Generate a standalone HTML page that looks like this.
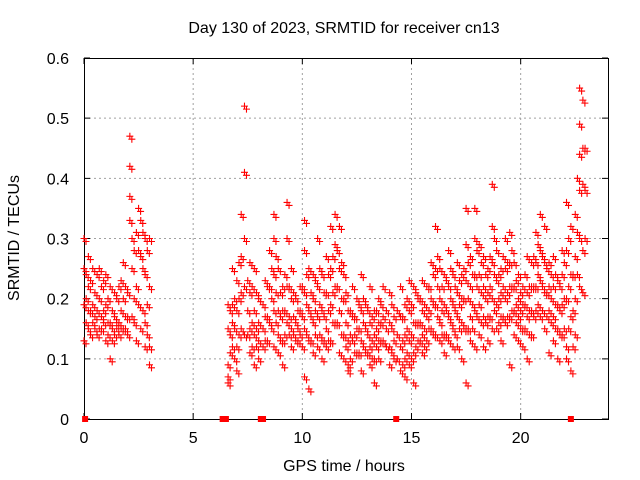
<!DOCTYPE html>
<html><head><meta charset="utf-8"><style>
body{margin:0;background:#fff}
svg{display:block;font-family:"Liberation Sans",sans-serif}
</style></head><body>
<svg id="chart" width="640" height="480" viewBox="0 0 640 480">
<rect width="640" height="480" fill="#fff"/>
<g id="grid"></g>
<g id="axes"></g>
<g id="marks"></g>
<text x="344" y="33" text-anchor="middle" font-size="16" fill="#000">Day 130 of 2023, SRMTID for receiver cn13</text>
<text x="344" y="471" text-anchor="middle" font-size="16" fill="#000">GPS time / hours</text>
<text transform="translate(19,238) rotate(-90)" text-anchor="middle" font-size="16" fill="#000">SRMTID / TECUs</text>
</svg>
<script>
const times=[0,0.2,0.4,0.6,0.8,1.0,1.2,1.4,1.6,1.8,2.0,2.1,2.2,2.4,2.5,2.6,2.8,2.9,3.0,
6.6,6.8,7.0,7.2,7.35,7.6,7.8,8.0,8.3,8.5,8.7,8.9,9.1,9.3,9.5,9.7,9.9,10.1,10.3,10.5,10.7,10.9,11.1,11.3,11.5,11.7,11.9,12.1,12.3,12.5,12.7,12.9,13.1,13.3,13.5,13.7,14.0,14.2,14.5,14.7,14.9,15.1,15.3,15.5,15.7,15.9,16.1,16.3,16.5,16.7,16.9,17.1,17.3,17.5,17.7,17.9,18.1,18.3,18.5,18.7,18.9,19.1,19.3,19.5,19.7,19.9,20.1,20.3,20.5,20.7,20.9,21.1,21.3,21.5,21.7,21.9,22.1,22.3,22.5,22.7,22.85];
const values=[[.30,.25,.19,.13],[.27,.22,.18,.15],[.25,.19,.16],[.24,.18,.14],[.22,.17,.15],[.24,.19,.13],[.22,.16,.10],[.21,.17,.14],[.22,.16,.14],[.26,.20,.15],[.21,.17,.14],[.47,.42,.37,.33],[.30,.25,.17],[.31,.22,.13],[.35,.28,.19],[.33,.27,.15],[.30,.24,.16,.12],[.28,.19,.14],[.30,.22,.12,.09],
[.09,.07,.06,.19,.15],[.25,.19,.16,.12],[.23,.18,.12,.08],[.34,.27,.21,.15],[.52,.41,.30,.22,.14],[.26,.21,.15,.11],[.25,.18,.14,.09],[.20,.16,.13,.10],[.23,.17,.13],[.28,.22,.16],[.34,.30,.24,.18,.12],[.25,.18,.14,.11],[.22,.18,.13,.09],[.36,.30,.22,.16],[.25,.20,.15,.12],[.20,.16,.13],[.22,.18,.14],[.33,.28,.21,.15,.07],[.25,.18,.13,.05],[.24,.20,.16,.11],[.30,.22,.17,.12],[.24,.18,.13,.10],[.27,.21,.15,.12],[.32,.25,.19,.13],[.34,.29,.22,.16],[.32,.25,.18,.11],[.24,.20,.14,.10],[.18,.13,.09,.08],[.22,.17,.13],[.20,.15,.11],[.24,.18,.13,.08],[.19,.15,.11],[.22,.16,.12,.09],[.18,.14,.10,.06],[.20,.16,.13,.10],[.22,.17,.13],[.21,.16,.12,.09],[.17,.13,.10],[.22,.17,.12,.08],[.19,.14,.10,.07],[.23,.18,.13,.09],[.22,.16,.11,.06],[.20,.16,.13],[.23,.18,.14,.11],[.22,.17,.13],[.26,.20,.15],[.32,.25,.19,.14],[.25,.20,.16,.13],[.24,.19,.14,.11],[.28,.22,.17,.13],[.24,.19,.15,.12],[.26,.21,.17,.12],[.24,.20,.16,.10],[.35,.29,.23,.15,.06],[.27,.22,.17,.13],[.35,.30,.24,.18,.12],[.29,.24,.19,.14],[.27,.22,.17,.12],[.25,.21,.17,.13],[.39,.32,.26,.20,.15],[.28,.23,.19,.15],[.25,.21,.17,.13],[.30,.25,.20,.16],[.31,.26,.22,.17,.09],[.26,.22,.18,.14],[.24,.20,.17,.13],[.22,.19,.15,.12],[.27,.21,.17,.10],[.26,.22,.18,.14],[.31,.26,.22,.18],[.34,.28,.23,.17],[.32,.26,.21,.15],[.26,.22,.18,.11],[.27,.22,.17,.13],[.23,.19,.15,.10],[.28,.24,.19,.14],[.36,.28,.20,.12,.10],[.32,.24,.17,.08],[.34,.27,.20,.14],[.55,.49,.44,.38,.30,.22],[.53,.45,.39,.28,.21]];
const times2=[0.1,0.3,0.5,0.7,0.9,1.1,1.3,1.5,1.7,1.9,2.3,2.7,
6.7,6.9,7.1,7.5,7.7,7.9,8.2,8.4,8.6,8.8,9.0,9.2,9.4,9.6,9.8,10.0,10.2,10.4,10.6,10.8,11.0,11.2,11.4,11.6,11.8,12.0,12.2,12.4,12.6,12.8,13.0,13.2,13.4,13.6,13.85,14.1,14.35,14.6,14.8,15.0,15.2,15.4,15.6,15.8,16.0,16.2,16.4,16.6,16.8,17.0,17.2,17.4,17.6,17.8,18.0,18.2,18.4,18.6,18.8,19.0,19.2,19.4,19.6,19.8,20.0,20.2,20.4,20.6,20.8,21.0,21.2,21.4,21.6,21.8,22.0,22.2,22.4,22.6,22.95];
const values2=[[.24,.20,.16],[.23,.18,.14],[.21,.17,.15],[.25,.20,.15],[.23,.18,.16],[.20,.16,.14],[.18,.15,.13],[.20,.16,.15],[.23,.18,.15],[.22,.17,.15],[.28,.20,.16],[.31,.25,.18],
[.18,.14,.11],[.20,.15,.10],[.26,.20,.14],[.23,.18,.14],[.22,.16,.12],[.21,.15,.12],[.19,.15,.12],[.22,.17,.13],[.25,.20,.15],[.27,.21,.16],[.21,.17,.13],[.24,.18,.14],[.22,.17,.14],[.21,.17,.14],[.18,.15,.13],[.22,.17,.12],[.24,.19,.14],[.21,.17,.13],[.23,.18,.14],[.25,.19,.14],[.21,.17,.13],[.24,.18,.13],[.27,.21,.16],[.28,.22,.16],[.26,.20,.14],[.21,.16,.12],[.18,.14,.10],[.17,.14,.11],[.19,.15,.11],[.20,.16,.12],[.18,.14,.11],[.17,.13,.10],[.18,.15,.12],[.19,.16,.13],[.18,.15,.12],[.19,.15,.11],[.18,.14,.10],[.17,.13,.09],[.20,.15,.11],[.19,.14,.10],[.21,.16,.12],[.20,.16,.13],[.19,.15,.12],[.22,.18,.15],[.24,.19,.14],[.27,.22,.17],[.22,.18,.14],[.23,.18,.14],[.25,.20,.16],[.22,.18,.14],[.23,.19,.15],[.25,.20,.15],[.26,.20,.15],[.24,.19,.15],[.28,.22,.17],[.26,.21,.16],[.24,.20,.16],[.27,.22,.17],[.30,.24,.18],[.24,.20,.16],[.27,.22,.17],[.26,.21,.17],[.28,.22,.18],[.23,.19,.16],[.21,.18,.15],[.24,.19,.15],[.22,.18,.14],[.27,.22,.17],[.29,.24,.19],[.27,.22,.18],[.25,.21,.17],[.24,.20,.16],[.24,.19,.15],[.22,.18,.14],[.26,.20,.15],[.30,.22,.15],[.24,.18,.12],[.40,.31,.24],[.45,.38,.30]];
const zeroTimes=[0.05,6.35,6.5,8.1,8.2,14.3,22.3];
const xTicks=[0,5,10,15,20];
const yTicks=[0,0.1,0.2,0.3,0.4,0.5,0.6];
const yTickLabels=["0","0.1","0.2","0.3","0.4","0.5","0.6"];

const L=84,R=608,T=58,B=419,XMAX=24,YMAX=0.6;
const sx=t=>L+(t/XMAX)*(R-L);
const sy=v=>B-(v/YMAX)*(B-T);
const NS="http://www.w3.org/2000/svg";
function mk(tag,attrs,parent){const e=document.createElementNS(NS,tag);for(const k in attrs)e.setAttribute(k,attrs[k]);parent.appendChild(e);return e;}
const grid=document.getElementById('grid'),axes=document.getElementById('axes'),marks=document.getElementById('marks');

yTicks.forEach((v,i)=>{
  const y=sy(v);
  if(i>0&&i<yTicks.length-1){const g=mk('line',{x1:L,x2:R,y1:y,y2:y,stroke:'#a0a0a0','stroke-dasharray':'2,3','stroke-width':1},grid);
  
  }
  const tk=mk('path',{d:`M${L},${y}h6M${R},${y}h-6`,stroke:'#000','stroke-width':1},axes);
  
  
  const tx=mk('text',{x:L-15,y:y+6,'text-anchor':'end','font-size':16},axes);
  tx.textContent=yTickLabels[i];
  
  
});
xTicks.forEach(t=>{
  const x=sx(t);
  if(t>0){const g=mk('line',{x1:x,x2:x,y1:T,y2:B,stroke:'#a0a0a0','stroke-dasharray':'2,3','stroke-width':1},grid);
  
  }
  const tk=mk('path',{d:`M${x},${B}v-6M${x},${T}v6`,stroke:'#000','stroke-width':1},axes);
  
  
  const tx=mk('text',{x:x,y:B+24,'text-anchor':'middle','font-size':16},axes);
  tx.textContent=String(t);
  
  
});
const frame=mk('rect',{x:L+0.5,y:T+0.5,width:R-L,height:B-T,fill:'none',stroke:'#000','stroke-width':1},axes);



let d='';
function addPts(ts,vs){
  ts.forEach((t,i)=>{
    vs[i].forEach(v=>{
      const x=sx(t),y=sy(v);
      d+=`M${x-3.5},${y}h7M${x},${y-3.5}v7`;
      d+=`M${x+2-3.5},${y+3}h7M${x+2},${y+3-3.5}v7`;
    });
  });
}
addPts(times,values);
addPts(times2,values2);
const pts=mk('path',{d:d,stroke:'#ff0000','stroke-width':1.1,fill:'none'},marks);


zeroTimes.forEach(t=>{
  const r=mk('rect',{x:sx(t)-3,y:B-3,width:6,height:6,fill:'#ff0000'},marks);
  
  
});
</script>
</body></html>
